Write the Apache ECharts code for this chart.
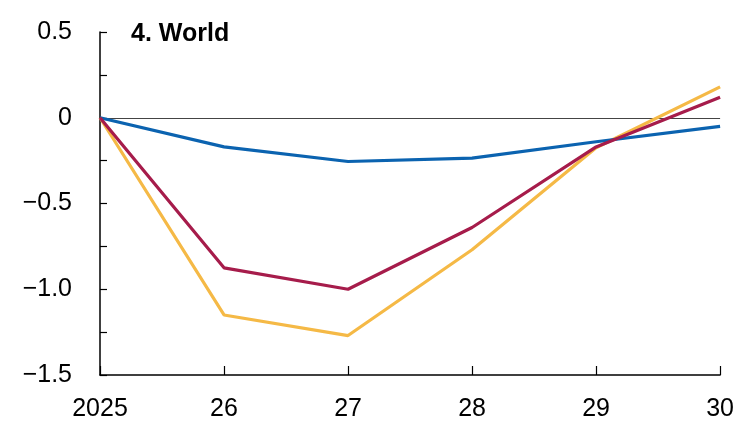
<!DOCTYPE html>
<html><head><meta charset="utf-8">
<script src="https://cdn.jsdelivr.net/npm/echarts@6/dist/echarts.min.js"></script>
<style>html,body{margin:0;padding:0;background:#fff}#c{width:737px;height:428px}</style>
</head><body><div id="c"></div>
<script>
const categories = ['2025', '26', '27', '28', '29', '30'];
const blueSeries = [0, -0.17, -0.255, -0.235, -0.14, -0.05];
const redSeries = [0, -0.875, -1.0, -0.64, -0.17, 0.12];
const yellowSeries = [0, -1.15, -1.27, -0.77, -0.175, 0.18];
const yTickLabels = {'0.5': '0.5', '0': '0', '-0.5': '\u22120.5', '-1': '\u22121.0', '-1.5': '\u22121.5'};
const titleText = '4. World';

const FONT = '"Liberation Sans", Arial, sans-serif';
const chart = echarts.init(document.getElementById('c'), null, {renderer: 'canvas'});
const lineStyleOf = c => ({color: c, width: 3.2});
chart.setOption({
  animation: false,
  title: {text: titleText, left: 126, top: 17, textStyle: {fontFamily: FONT, fontSize: 25, fontWeight: 'bold', color: '#000'}},
  grid: {left: 100, right: 16, top: 32, bottom: 53},
  xAxis: {
    type: 'category', data: categories, boundaryGap: false,
    axisLine: {onZero: false, lineStyle: {color: '#000', width: 1.5}},
    axisTick: {inside: true, length: 9, lineStyle: {color: '#000', width: 1.2}},
    axisLabel: {fontFamily: FONT, fontSize: 25, color: '#000', margin: 22, showMinLabel: true, showMaxLabel: true},
    splitLine: {show: false}
  },
  yAxis: {
    type: 'value', min: -1.5, max: 0.5, interval: 0.25,
    axisLine: {show: true, lineStyle: {color: '#000', width: 1.5}},
    axisTick: {show: true, inside: true, length: 7, lineStyle: {color: '#000', width: 1.2}},
    axisLabel: {fontFamily: FONT, fontSize: 25, color: '#000', margin: 28,
      formatter: v => { const k = String(Math.round(v * 100) / 100); return yTickLabels[k] !== undefined ? yTickLabels[k] : ''; }},
    splitLine: {show: false}
  },
  series: [
    {name: 'yellow', type: 'line', data: yellowSeries, symbol: 'none', lineStyle: lineStyleOf('#f5b946'), z: 2,
     markLine: {silent: true, symbol: 'none', label: {show: false}, lineStyle: {color: '#444', width: 1.2, type: 'solid'}, data: [{yAxis: 0}], z: 1}},
    {name: 'blue', type: 'line', data: blueSeries, symbol: 'none', lineStyle: lineStyleOf('#0b63b0'), z: 3},
    {name: 'red', type: 'line', data: redSeries, symbol: 'none', lineStyle: lineStyleOf('#a61c4b'), z: 4}
  ]
});
</script></body></html>
